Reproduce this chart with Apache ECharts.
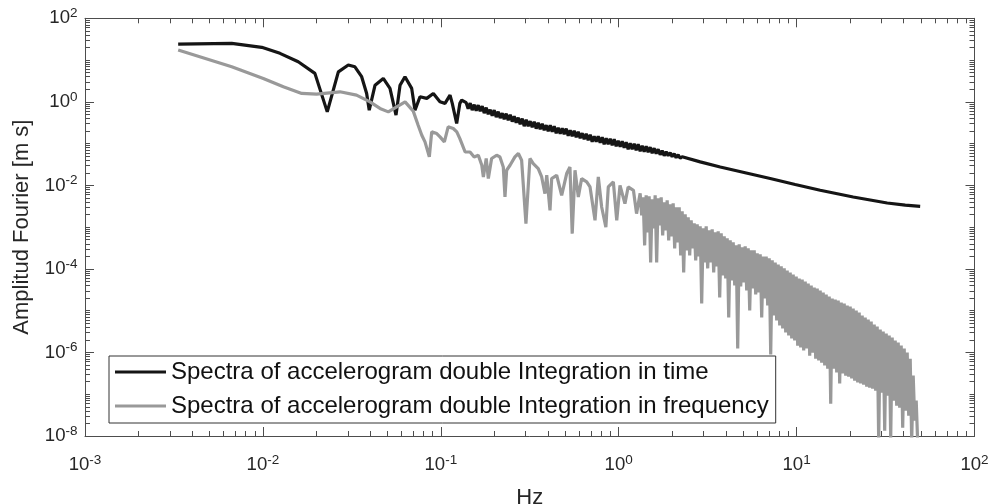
<!DOCTYPE html>
<html><head><meta charset="utf-8">
<script src="https://cdn.jsdelivr.net/npm/echarts@6/dist/echarts.min.js"></script>
<style>html,body{margin:0;padding:0;background:#fff}#c{width:992px;height:504px}</style>
</head><body><div id="c"></div>
<script>
// Spectra of accelerogram double integration in time (black)
const timeFreq = [0.00334,0.00668,0.00985,0.01247,0.0158,0.0196,0.0230,0.02655,0.0302,0.0329,0.0359,0.0383,0.0396,0.0427,0.0475,0.0518,0.0560,0.0590,0.0629,0.0686,0.0716,0.0764,0.0834,0.0908,0.0989,0.1056,0.1127,0.116,0.1228,0.128,0.131,
0.1389,0.1425,0.1463,0.1501,0.1541,0.1581,0.1623,0.1665,0.1709,0.1754,0.1800,0.1847,0.1895,0.1945,0.1996,0.2049,0.2102,0.2157,0.2214,0.2272,0.2331,0.2393,0.2455,0.2520,0.2585,0.2653,0.2723,0.2794,0.2868,0.2943,0.3020,0.3099,0.3180,0.3264,0.3349,0.3437,0.3527,0.3620,0.3715,0.3812,0.3912,0.4015,0.4120,0.4228,0.4339,0.4453,0.4569,0.4689,0.4812,0.4938,0.5068,0.5201,0.5337,0.5477,0.5620,0.5768,0.5919,0.6074,0.6233,0.6397,0.6564,0.6736,0.6913,0.7094,0.7280,0.7471,0.7667,0.7868,0.8074,0.8286,0.8503,0.8726,0.8955,0.9190,0.9430,0.9678,0.9931,1.0192,1.0459,1.0733,1.1014,1.1303,1.1599,1.1904,1.2215,1.2536,1.2864,1.3201,1.3548,1.3903,1.4267,1.4641,1.5025,1.5419,1.5823,1.6238,1.6664,1.7101,1.7549,1.8009,1.8481,1.8966,1.9463,1.9973,2.0497,2.1034,2.1585,2.2151,2.2732,
2.872,3.721,5.14,7.106,9.82,13.57,20.8,32.3,40.8,49.5];
const timeAmp = [24.2,25.1,20.2,14.5,9.1,4.8,0.575,5.2,7.6,6.9,4.0,1.59,0.63,2.5,3.64,2.1,0.48,2.5,4.0,2.1,0.63,1.32,1.21,1.59,1.0,0.92,1.45,0.92,0.303,0.92,1.10,
0.957,0.687,0.931,0.632,0.857,0.615,0.833,0.598,0.789,0.536,0.726,0.507,0.650,0.467,0.632,0.430,0.582,0.407,0.536,0.385,0.521,0.364,0.493,0.335,0.454,0.317,0.418,0.292,0.396,0.261,0.374,0.261,0.344,0.247,0.335,0.228,0.317,0.2215,0.300,0.2096,0.276,0.198,0.276,0.193,0.261,0.1776,0.2405,0.1727,0.234,0.168,0.228,0.1547,0.2096,0.1505,0.2039,0.1424,0.193,0.1348,0.1776,0.1275,0.1727,0.1207,0.1634,0.1110,0.1505,0.1110,0.1505,0.1050,0.1424,0.0967,0.1348,0.0967,0.1311,0.0915,0.1275,0.0866,0.1173,0.0843,0.1142,0.0797,0.1080,0.0734,0.1022,0.0734,0.0995,0.0694,0.0967,0.0657,0.0890,0.0639,0.0866,0.0622,0.0820,0.0589,0.0776,0.0573,0.0734,0.0542,0.0676,0.0513,0.0639,0.0513,0.0605,0.0485,0.0573,0.0459,0.0542,0.0447,0.0485,
0.0366,0.0276,0.0201,0.01456,0.01051,0.00763,0.00527,0.00378,0.00337,0.00315];

// Spectra of accelerogram double integration in frequency (grey)
const freqFreq = [0.00334,0.00668,0.01005,0.01303,0.01653,0.02005,0.0271,0.0336,0.040,0.0455,0.0507,0.0565,0.063,0.0700,0.0745,0.0782,0.0815,0.0862,0.0889,0.0949,0.099,0.1047,0.110,0.1175,0.123,0.128,0.137,0.146,0.154,0.1625,0.170,0.1735,0.180,0.185,0.193,0.206,0.215,0.2245,0.2295,0.2345,0.245,0.261,0.273,0.2846,0.301,0.317,0.331,0.353,0.369,0.385,0.394,0.411,0.420,0.448,0.478,0.510,0.532,0.548,0.568,0.593,0.619,0.661,0.690,0.736,0.768,0.802,0.847,0.874,0.933,0.975,1.017,1.084,1.13,1.21,1.26,
1.320,1.3459,1.372,1.3989,1.427,1.4550,1.483,1.5121,1.542,1.5722,1.603,1.6344,1.667,1.6997,1.733,1.7670,1.801,1.8363,1.873,1.9097,1.947,1.9852,2.024,2.0637,2.104,2.1453,2.188,2.2309,2.274,2.3186,2.364,2.4104,2.458,2.5062,2.555,2.6051,2.657,2.7091,2.762,2.8162,2.871,2.9273,2.985,3.0435,3.103,3.1639,3.226,3.2893,3.354,3.4198,3.487,3.5554,3.625,3.6961,3.768,3.8419,3.918,3.9948,4.073,4.1529,4.234,4.3170,4.402,4.4883,4.576,4.6657,4.757,4.8503,4.946,5.0430,5.141,5.2418,5.345,5.4498,5.557,5.6660,5.777,5.8903,6.005,6.1228,6.243,6.3654,6.490,6.6173,6.747,6.8793,7.015,7.1526,7.292,7.4350,7.581,7.7297,7.881,8.0355,8.193,8.3537,8.518,8.6850,8.855,9.0286,9.206,9.3865,9.570,9.7577,9.949,10.144,10.34,10.543,10.75,10.961,11.18,11.399,11.62,11.848,12.08,12.317,12.56,12.806,13.06,13.316,13.57,13.836,14.11,14.387,14.67,14.958,15.25,15.549,15.85,16.161,16.48,16.803,17.13,17.466,17.81,18.159,18.52,18.883,19.25,19.627,20.01,20.402,20.80,21.208,21.63,22.054,22.48,22.921,23.37,23.828,24.30,24.777,25.26,25.755,26.26,26.775,27.30,27.835,28.38,28.937,29.51,30.089,30.67,31.271,31.89,32.515,33.15,33.800,34.46,35.136,35.83,36.533,37.25,37.980,38.72,39.479,40.26,41.049,41.85,42.671,43.51,44.363,45.23,46.117,47.02,47.9];
const freqAmp = [17.4,6.9,3.64,2.29,1.59,1.53,1.74,1.45,1.0,0.695,0.575,0.76,1.0,0.60,0.28,0.159,0.110,0.048,0.191,0.174,0.145,0.110,0.252,0.230,0.191,0.132,0.063,0.063,0.048,0.0527,0.0303,0.0159,0.044,0.01455,0.044,0.0527,0.048,0.0276,0.00527,0.023,0.0303,0.048,0.058,0.040,0.00121,0.044,0.0333,0.0253,0.0159,0.00635,0.0175,0.00253,0.01455,0.0175,0.00578,0.0192,0.0276,0.000698,0.023,0.00527,0.01455,0.0121,0.00917,0.00146,0.0159,0.00303,0.001,0.00917,0.0121,0.00146,0.01,0.00366,0.00917,0.00762,0.00211,
6.46e-3,1.92e-3,5.18e-3,3.66e-4,5.79e-3,7.50e-4,5.48e-3,1.43e-4,4.64e-3,9.36e-4,5.79e-3,1.43e-4,4.91e-3,1.105e-3,5.18e-3,6.36e-4,3.93e-3,8.38e-4,4.39e-3,4.83e-4,3.52e-3,6.02e-4,3.72e-3,3.10e-4,2.98e-3,4.32e-4,2.98e-3,2.11e-4,2.39e-3,8.24e-5,2.03e-3,2.78e-4,1.72e-3,2.11e-4,1.46e-3,3.10e-4,1.23e-3,1.60e-4,1.17e-3,1.99e-4,1.045e-3,1.49e-5,9.36e-4,1.43e-4,1.045e-3,1.03e-4,8.38e-4,1.43e-4,8.86e-4,8.24e-5,7.50e-4,1.15e-4,7.93e-4,2.07e-5,7.10e-4,6.98e-5,6.02e-4,5.92e-5,5.39e-4,6.87e-6,4.83e-4,5.30e-5,4.32e-4,4.02e-5,3.66e-4,1.24e-6,3.87e-4,3.80e-5,3.28e-4,4.74e-5,3.46e-4,3.05e-5,3.10e-4,1.01e-5,2.78e-4,3.41e-5,2.78e-4,2.45e-5,2.35e-4,2.73e-5,2.23e-4,6.87e-6,1.99e-4,1.96e-5,1.99e-4,1.33e-5,1.79e-4,8.9e-7,1.60e-4,7.67e-6,1.43e-4,5.82e-6,1.28e-4,4.42e-6,1.15e-4,3.74e-6,1.03e-4,3.00e-6,9.2e-5,2.54e-6,8.24e-5,2.15e-6,7.38e-5,1.93e-6,6.61e-5,1.46e-6,5.92e-5,1.31e-6,5.60e-5,1.11e-6,5.01e-5,1.24e-6,4.49e-5,8.4e-7,4.02e-5,9.9e-7,3.60e-5,7.1e-7,3.41e-5,6.39e-7,3.05e-5,5.7e-7,2.73e-5,4.85e-7,2.45e-5,4.1e-7,2.19e-5,5.95e-8,1.96e-5,4.1e-7,1.86e-5,3.30e-7,1.76e-5,1.80e-7,1.57e-5,3.12e-7,1.49e-5,2.79e-7,1.33e-5,2.64e-7,1.26e-5,2.37e-7,1.13e-5,2.12e-7,1.01e-5,1.90e-7,9.05e-6,1.80e-7,7.67e-6,1.70e-7,6.87e-6,1.52e-7,6.15e-6,1.44e-7,5.51e-6,1.36e-7,4.67e-6,1.22e-7,4.18e-6,7.7e-9,3.54e-6,1.09e-7,3.17e-6,1.34e-8,2.84e-6,9.26e-8,2.54e-6,8.6e-9,2.28e-6,7.02e-8,1.93e-6,5.33e-8,1.73e-6,4.77e-8,1.46e-6,1.58e-8,1.24e-6,4.04e-8,9.9e-7,3.07e-8,7.1e-7,7.7e-9,2.79e-7,2.33e-8,7.02e-8,7.7e-9];

const seriesNames = ['Spectra of accelerogram double Integration in time','Spectra of accelerogram double Integration in frequency'];
const xTicks = [1e-3,1e-2,1e-1,1,10,100];
const yTicks = [1e-8,1e-6,1e-4,1e-2,1,100];

const FONT = '"Liberation Sans", Arial, Helvetica, sans-serif';
const AX = '#4d4d4d';
function pair(a,b){ return a.map((v,i)=>[v,b[i]]); }
function supLabel(v){ const e = Math.round(Math.log10(v)); return '{b|10}{s|' + e + '}'; }
const rich = {
  b:{fontSize:18.6,fontFamily:FONT,color:'#262626',lineHeight:24},
  s:{fontSize:13.5,fontFamily:FONT,color:'#262626',lineHeight:12.5,verticalAlign:'top'}
};
function xAx(pos, show){
  return {type:'log',logBase:10,position:pos,min:xTicks[0],max:xTicks[xTicks.length-1],interval:1,
    axisLine:{show:true,onZero:false,lineStyle:{color:AX,width:1}},
    axisTick:{show:true,inside:true,length:9,lineStyle:{color:AX}},
    minorTick:{show:true,splitNumber:9,length:5,lineStyle:{color:AX}},
    splitLine:{show:false},
    axisLabel:{show:show,margin:17,formatter:supLabel,rich:rich},
    name: show?'Hz':'', nameLocation:'middle', nameGap:51,
    nameTextStyle:{fontSize:22,fontFamily:FONT,color:'#262626'}};
}
function yAx(pos, major, show){
  return {type:'log',logBase:10,position:pos,min:yTicks[0],max:yTicks[yTicks.length-1],interval:major?2:1,
    axisLine:{show:major,onZero:false,lineStyle:{color:AX,width:1}},
    axisTick:{show:true,inside:true,length:major?9:5,lineStyle:{color:AX}},
    minorTick:{show:!major,splitNumber:9,length:5,lineStyle:{color:AX}},
    splitLine:{show:false},
    axisLabel:{show:show,margin:7.5,formatter:supLabel,rich:rich},
    name: show?'Amplitud Fourier [m s]':'', nameLocation:'middle', nameGap:52,
    nameTextStyle:{fontSize:22,fontFamily:FONT,color:'#262626'}};
}
const chart = echarts.init(document.getElementById('c'),null,{renderer:'canvas'});
chart.setOption({
  animation:false,
  backgroundColor:'#fff',
  grid:{left:85,right:17.5,top:18.3,bottom:68,containLabel:false,outerBoundsMode:'none'},
  xAxis:[xAx('bottom',true), xAx('top',false)],
  yAxis:[yAx('left',true,true), yAx('left',false,false), yAx('right',true,false), yAx('right',false,false)],
  legend:{left:109,top:356,orient:'vertical',backgroundColor:'#fff',borderColor:'#333',borderWidth:1,
    padding:[2,7,3,6],itemWidth:51,itemHeight:3.2,itemGap:6,icon:'rect',
    textStyle:{fontSize:24,fontFamily:FONT,color:'#111',lineHeight:28},
    data:seriesNames},
  series:[
    {name:seriesNames[0],type:'line',xAxisIndex:0,yAxisIndex:0,symbol:'none',data:pair(timeFreq,timeAmp),
      lineStyle:{color:'#151515',width:3.2},itemStyle:{color:'#151515'},z:2},
    {name:seriesNames[1],type:'line',xAxisIndex:0,yAxisIndex:0,symbol:'none',data:pair(freqFreq,freqAmp),
      lineStyle:{color:'#999999',width:3.2},itemStyle:{color:'#999999'},z:3}
  ]
});
</script></body></html>
